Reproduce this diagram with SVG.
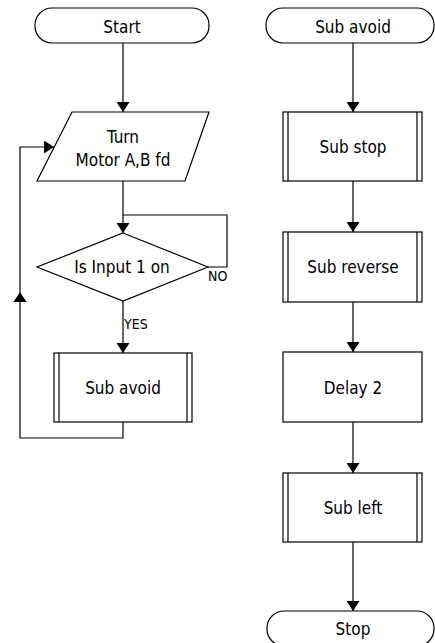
<svg xmlns="http://www.w3.org/2000/svg" width="435" height="643" viewBox="0 0 435 643">
<style>
.s{fill:#fff;stroke:#000;stroke-width:1.2}
.l{fill:none;stroke:#000;stroke-width:1.2}
.t{font-family:"DejaVu Sans Condensed","DejaVu Sans",sans-serif;font-size:17px;fill:#000;text-anchor:middle;dominant-baseline:central}
.lb{font-family:"DejaVu Sans Condensed","DejaVu Sans",sans-serif;font-size:14px;fill:#000}
</style>
<defs>
<marker id="a" markerUnits="userSpaceOnUse" markerWidth="10" markerHeight="13" viewBox="0 0 10 13" refX="10" refY="6.5" orient="auto">
<path d="M0,0 L10,6.5 L0,13 z" fill="#000"/>
</marker>
</defs>
<g id="connectors">
<path class="l" d="M123,43 V112" marker-end="url(#a)"/>
<path class="l" d="M123,181 V233" marker-end="url(#a)"/>
<path class="l" d="M208,267 H227 V215 H123"/>
<path class="l" d="M123,301 V353" marker-end="url(#a)"/>
<path class="l" d="M123,422 V438 H20 V147 H54" marker-end="url(#a)"/>
<path d="M20,292 L26.5,302 L13.5,302 z" fill="#000"/>
<path class="l" d="M353,43 V112" marker-end="url(#a)"/>
<path class="l" d="M353,181 V232" marker-end="url(#a)"/>
<path class="l" d="M353,302 V352" marker-end="url(#a)"/>
<path class="l" d="M353,422 V473" marker-end="url(#a)"/>
<path class="l" d="M353,542 V611" marker-end="url(#a)"/>
</g>
<g id="start">
<rect class="s" x="35" y="8" width="174" height="35" rx="17" ry="17"/>
<text class="t" x="122" y="27">Start</text>
</g>
<g id="turn">
<polygon class="s" points="72,112 209,112 185,181 37,181"/>
<text class="t" x="123" y="136.5">Turn</text>
<text class="t" x="123" y="159.5">Motor A,B fd</text>
</g>
<g id="decision">
<polygon class="s" points="123,233 208,267 123,301 37,267"/>
<text class="t" x="122" y="267">Is Input 1 on</text>
<text class="lb" x="208" y="281">NO</text>
<text class="lb" x="124" y="329">YES</text>
</g>
<g id="subavoid1">
<rect class="s" x="54" y="353" width="138" height="69"/>
<path class="l" d="M59,353 V422 M187,353 V422"/>
<text class="t" x="123" y="388">Sub avoid</text>
</g>
<g id="subavoid-start">
<rect class="s" x="266" y="8" width="168" height="35" rx="17" ry="17"/>
<text class="t" x="353" y="27">Sub avoid</text>
</g>
<g id="substop">
<rect class="s" x="283" y="112" width="139" height="69"/>
<path class="l" d="M288,112 V181 M417,112 V181"/>
<text class="t" x="353" y="147">Sub stop</text>
</g>
<g id="subreverse">
<rect class="s" x="283" y="232" width="139" height="70"/>
<path class="l" d="M288,232 V302 M417,232 V302"/>
<text class="t" x="353" y="267">Sub reverse</text>
</g>
<g id="delay">
<rect class="s" x="283" y="352" width="139" height="70"/>
<text class="t" x="353" y="388">Delay 2</text>
</g>
<g id="subleft">
<rect class="s" x="283" y="473" width="139" height="69"/>
<path class="l" d="M288,473 V542 M417,473 V542"/>
<text class="t" x="353" y="508">Sub left</text>
</g>
<g id="stop">
<rect class="s" x="267" y="611" width="167" height="35" rx="17" ry="17"/>
<text class="t" x="353" y="629">Stop</text>
</g>
</svg>
